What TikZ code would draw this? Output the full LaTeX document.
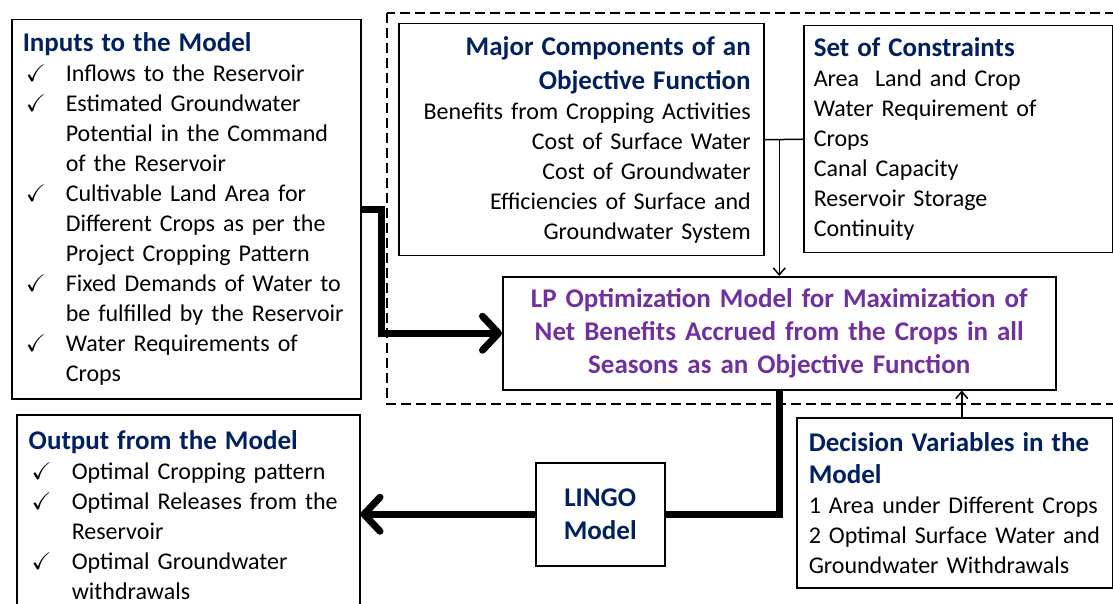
\documentclass[tikz,border=0pt]{standalone}
\usepackage{amssymb}
\usepackage{fontspec}
\setmainfont{Carlito}
\usetikzlibrary{positioning, arrows.meta, calc}

\definecolor{navytitle}{RGB}{0,32,96}
\definecolor{lppurple}{RGB}{112,48,160}

\newcommand{\hd}[1]{{\fontsize{13.5}{15}\selectfont\bfseries\color{navytitle}#1}}
\newcommand{\chk}{\makebox[21.5pt][l]{\hspace{1.5pt}$\checkmark$}}
\newcommand{\ind}{\hspace*{21.5pt}}

\begin{document}
\begin{tikzpicture}[
    x=0.5pt, y=-0.5pt,
    panel/.style={
        rectangle,
        draw,
        line width=0.75pt,
        anchor=north west,
        inner xsep=5.5pt,
        inner ysep=0pt,
        align=left,
        font=\fontsize{12}{15}\selectfont
    },
    thickline/.style={
        line width=3.5pt
    },
    bigarrow/.style={
        thickline,
        -{Straight Barb[length=8pt, width=17pt, round]}
    },
    thinarrow/.style={
        line width=0.75pt,
        -{Straight Barb[length=3.5pt, width=6pt]}
    },
    frame/.style={
        line width=0.6pt,
        dash pattern=on 5pt off 2.5pt
    }
]

    \useasboundingbox (0,0) rectangle (1113,604);
    \clip (0,0) rectangle (1113,604);

    % Inputs
    \node[panel, text width=163.5pt, minimum height=189.5pt] (inputs) at (11,19) {
        \hd{Inputs to the Model}\\
        \chk Inflows to the Reservoir\\
        \chk Estimated Groundwater\\
        \ind Potential in the Command\\
        \ind of the Reservoir\\
        \chk Cultivable Land Area for\\
        \ind Different Crops as per the\\
        \ind Project Cropping Pattern\\
        \chk Fixed Demands of Water to\\
        \ind be fulfilled by the Reservoir\\
        \chk Water Requirements of\\
        \ind Crops};

    % Objective function and constraints
    \draw[frame] (387,13) rectangle (1140,404);
    \node[panel, align=right, inner xsep=6.5pt, text width=169.5pt, minimum height=116pt] (major) at (398,23) {
        \hd{Major Components of an}\\[2pt]
        \hd{Objective Function}\\
        Benefits from Cropping Activities\\
        Cost of Surface Water\\
        Cost of Groundwater\\
        Efficiencies of Surface and\\
        Groundwater System};
    \node[panel, inner xsep=5pt, text width=144.5pt, minimum height=113.5pt] (constraints) at (803,25) {
        \hd{Set of Constraints}\\
        Area\ \ Land and Crop\\
        Water Requirement of\\
        Crops\\
        Canal Capacity\\
        Reservoir Storage\\
        Continuity};

    % LP model
    \node[panel, align=center, inner xsep=4pt, text width=268.5pt, minimum height=56.5pt,
        font=\fontsize{13.5}{16.5}\selectfont\bfseries\color{lppurple}] (lp) at (502,276) {
        LP Optimization Model for Maximization of\\
        Net Benefits Accrued from the Crops in all\\
        Seasons as an Objective Function};

    \draw[line width=0.75pt] (major.east) -- (constraints.west);
    \draw[thinarrow] (lp.north |- major.east) -- (lp.north);
    \draw[bigarrow] (inputs.east) -- ++(20,0) |- (lp.west);

    % Decision variables
    \node[panel, inner xsep=6pt, text width=146pt, minimum height=85pt] (decision) at (796,417) {
        \hd{Decision Variables in the}\\[1pt]
        \hd{Model}\\
        1 Area under Different Crops\\
        2 Optimal Surface\ Water and\\
        Groundwater Withdrawals};
    \draw[thinarrow] ([xshift=3.5pt]decision.north) -- ([xshift=3.5pt]decision.north |- lp.south);

    % LINGO and outputs
    \node[panel, align=center, inner xsep=2pt, text width=60.5pt, minimum height=51.5pt] (lingo) at (535,462) {
        \hd{LINGO}\\[1.5pt]
        \hd{Model}};
    \node[panel, inner xsep=6pt, text width=159.5pt, minimum height=100pt] (output) at (16,414) {
        \hd{Output from the Model}\\
        \chk Optimal Cropping pattern\\
        \chk Optimal Releases from the\\
        \ind Reservoir\\
        \chk Optimal Groundwater\\
        \ind withdrawals};

    \draw[thickline] (lp.south) |- (lingo.east);
    \draw[bigarrow] (lingo.west) -- (lingo.west -| output.east);

\end{tikzpicture}
\end{document}
